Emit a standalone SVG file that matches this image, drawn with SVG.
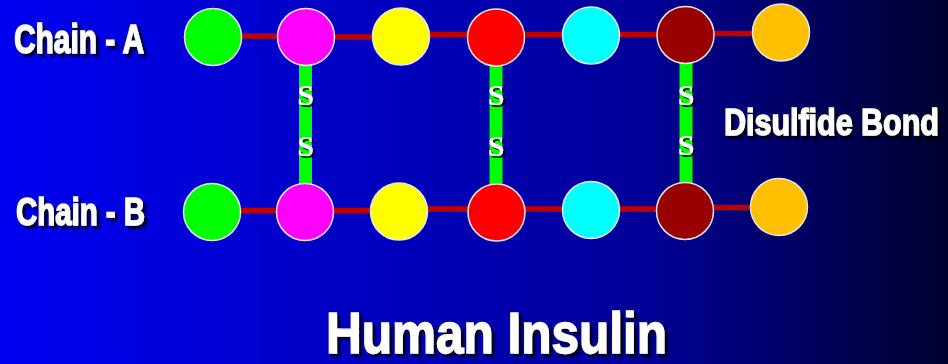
<svg xmlns="http://www.w3.org/2000/svg" width="948" height="364" viewBox="0 0 948 364">
  <defs>
    <linearGradient id="bg" x1="0" y1="0" x2="1" y2="0">
      <stop offset="0" stop-color="#0000F2"/>
      <stop offset="0.45" stop-color="#0000B8"/>
      <stop offset="0.68" stop-color="#000098"/>
      <stop offset="0.85" stop-color="#000060"/>
      <stop offset="1" stop-color="#00002E"/>
    </linearGradient>
    <filter id="sh" x="-10%" y="-20%" width="130%" height="150%">
      <feDropShadow dx="3" dy="3" stdDeviation="0.8" flood-color="#000" flood-opacity="0.85"/>
    </filter>
    <filter id="shs" x="-30%" y="-30%" width="180%" height="180%">
      <feDropShadow dx="2" dy="2" stdDeviation="0.6" flood-color="#000" flood-opacity="0.8"/>
    </filter>
  </defs>
  <style>
    .res { stroke: #E6E6E6; stroke-width: 1.5; }
    .pep { stroke: #C00000; stroke-width: 5.5; }
    .ss { stroke: #00FF00; stroke-width: 13; }
    .lbl { font-family: "Liberation Sans", Arial, sans-serif; font-weight: bold; fill: #FFFFFF; stroke: #FFFFFF; stroke-width: 1.4; filter: url(#sh); }
    .s { font-family: "Liberation Serif", "Times New Roman", serif; font-weight: bold; font-size: 30px; fill: #FFFFFF; text-anchor: middle; filter: url(#shs); }
  </style>
  <rect x="0" y="0" width="948" height="364" fill="url(#bg)"/>

  <g id="connectors">
    <line class="pep" x1="240" y1="36" x2="280" y2="36"/>
    <line class="pep" x1="332" y1="37" x2="375" y2="37"/>
    <line class="pep" x1="428" y1="34.5" x2="470" y2="34.5"/>
    <line class="pep" x1="523" y1="34.5" x2="564" y2="34.5"/>
    <line class="pep" x1="618" y1="34.5" x2="659" y2="34.5"/>
    <line class="pep" x1="712" y1="33.5" x2="754" y2="33.5"/>

    <line class="pep" x1="239" y1="210.5" x2="279" y2="210.5"/>
    <line class="pep" x1="331" y1="210.5" x2="373" y2="210.5"/>
    <line class="pep" x1="426" y1="209" x2="470" y2="209"/>
    <line class="pep" x1="523" y1="209" x2="564" y2="209"/>
    <line class="pep" x1="618" y1="209" x2="659" y2="209"/>
    <line class="pep" x1="711" y1="207.5" x2="753" y2="207.5"/>

    <line class="ss" x1="305.5" y1="64" x2="305.5" y2="185"/>
    <line class="ss" x1="496" y1="64" x2="496" y2="185"/>
    <line class="ss" x1="686" y1="62" x2="686" y2="184"/>

    <text class="s" x="305.5" y="105">S</text>
    <text class="s" x="305.5" y="156">S</text>
    <text class="s" x="496" y="105">S</text>
    <text class="s" x="496" y="156">S</text>
    <text class="s" x="686" y="105">S</text>
    <text class="s" x="686" y="155">S</text>
  </g>

  <g id="a1"><circle class="res" cx="213" cy="37" r="28.5" fill="#00FF00"/></g>
  <g id="a2"><circle class="res" cx="306" cy="37" r="28.5" fill="#FF00FF"/></g>
  <g id="a3"><circle class="res" cx="401" cy="36.5" r="28.5" fill="#FFFF00"/></g>
  <g id="a4"><circle class="res" cx="496" cy="37.5" r="28.5" fill="#FF0000"/></g>
  <g id="a5"><circle class="res" cx="591" cy="35.5" r="28.5" fill="#00FFFF"/></g>
  <g id="a6"><circle class="res" cx="685.5" cy="35" r="28.5" fill="#990000"/></g>
  <g id="a7"><circle class="res" cx="781" cy="32.5" r="28.5" fill="#FFC000"/></g>

  <g id="b1"><circle class="res" cx="212" cy="212" r="28.5" fill="#00FF00"/></g>
  <g id="b2"><circle class="res" cx="305" cy="212" r="28.5" fill="#FF00FF"/></g>
  <g id="b3"><circle class="res" cx="399" cy="211.5" r="28.5" fill="#FFFF00"/></g>
  <g id="b4"><circle class="res" cx="496.5" cy="212.5" r="28.5" fill="#FF0000"/></g>
  <g id="b5"><circle class="res" cx="591" cy="210" r="28.5" fill="#00FFFF"/></g>
  <g id="b6"><circle class="res" cx="685" cy="211" r="28.5" fill="#990000"/></g>
  <g id="b7"><circle class="res" cx="779" cy="207" r="28.5" fill="#FFC000"/></g>

  <g id="label-chain-a"><text class="lbl" x="14" y="53" font-size="41" textLength="130" lengthAdjust="spacingAndGlyphs">Chain - A</text></g>
  <g id="label-chain-b"><text class="lbl" x="16" y="225" font-size="39" textLength="129" lengthAdjust="spacingAndGlyphs">Chain - B</text></g>
  <g id="label-disulfide" transform="translate(724,135) scale(0.82,1)"><text class="lbl" x="0" y="0" font-size="37" textLength="262" lengthAdjust="spacingAndGlyphs">Disulfide Bond</text></g>
  <g id="title"><text class="lbl" x="326" y="353" font-size="57" textLength="341" lengthAdjust="spacingAndGlyphs">Human Insulin</text></g>
</svg>
